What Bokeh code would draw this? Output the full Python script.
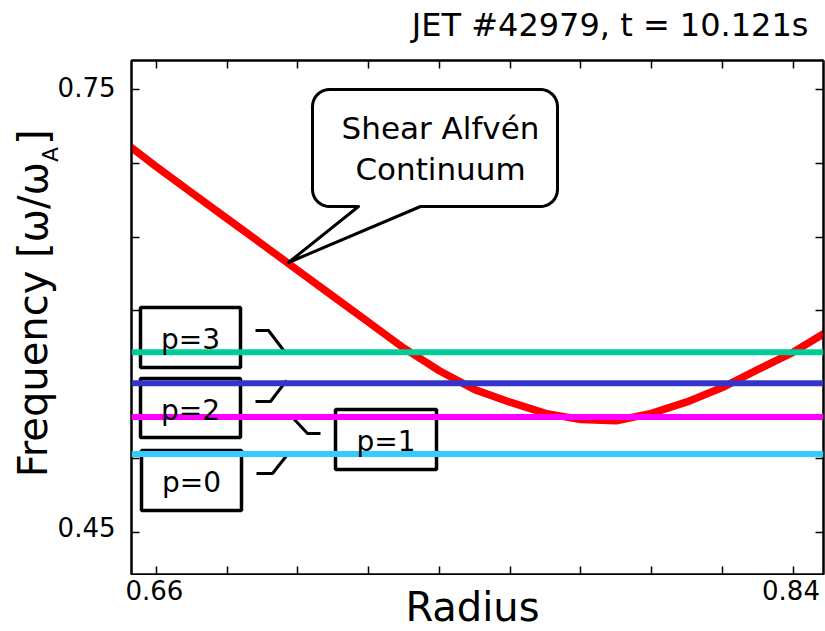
import math

from bokeh.core.properties import value
from bokeh.embed import file_html
from bokeh.layouts import column, row
from bokeh.models import FixedTicker, Label, LinearAxis, Range1d, Span
from bokeh.plotting import figure
from bokeh.resources import INLINE

# ---- data -----------------------------------------------------------------
# shear Alfven continuum frequency vs minor radius
radius = [0.653, 0.660, 0.670, 0.680, 0.690, 0.700, 0.710, 0.720, 0.730,
          0.740, 0.750, 0.760, 0.770, 0.780, 0.790, 0.800, 0.810, 0.820,
          0.830, 0.840, 0.849]
continuum = [0.7105, 0.6977, 0.6801, 0.6625, 0.6450, 0.6274, 0.6098, 0.5923,
             0.5747, 0.5594, 0.5466, 0.5381, 0.5305, 0.5263, 0.5255, 0.5305,
             0.5383, 0.5480, 0.5602, 0.5719, 0.5850]

# eigenmode frequencies (p = radial mode number)
mode_labels = ["p=0", "p=1", "p=2", "p=3"]
mode_freq = [0.503, 0.528, 0.551, 0.572]
mode_colors = ["#33ccff", "#ff00ff", "#3434c8", "#00cc99"]

x_ticks = [0.66, 0.68, 0.70, 0.72, 0.74, 0.76, 0.78, 0.80, 0.82, 0.84]
x_tick_labels = {0.66: "0.66", 0.84: "0.84"}
y_ticks = [0.45, 0.50, 0.55, 0.60, 0.65, 0.70, 0.75]
y_tick_labels = {0.75: "0.75", 0.45: "0.45"}

title_text = "JET #42979, t = 10.121s"
x_title = "Radius"
y_title = ("Frequency [ω/ω", "A", "]")
bubble_lines = ["Shear Alfvén", "Continuum"]

# ---- geometry -------------------------------------------------------------
W, H = 825, 631
FL, FR, FT, FB = 131, 823, 60, 574          # plot frame in page pixels
X0, X1 = 0.65296, 0.84862
Y0, Y1 = 0.42134, 0.76965
PT, PB, PL = 2, 1, 2                        # border kept round the frame
FONT = "DejaVu Sans"
BASE_SHIFT = -0.0185                        # cap centre vs "middle" anchor, em


def dx(px):
    """page pixel column -> data x"""
    return X0 + (px - FL) / (FR - FL) * (X1 - X0)


def dy(py):
    """page pixel row -> data y"""
    return Y1 - (py - FT) / (FB - FT) * (Y1 - Y0)


def px(x):
    """data x -> page pixel column"""
    return FL + (x - X0) / (X1 - X0) * (FR - FL)


def py(y):
    """data y -> page pixel row"""
    return FT + (Y1 - y) / (Y1 - Y0) * (FB - FT)


# ---- main plot ------------------------------------------------------------
p = figure(width=W - FL + PL, height=FB - FT + PT + PB,
           output_backend="svg", toolbar_location=None,
           x_range=Range1d(X0, X1), y_range=Range1d(Y0, Y1),
           min_border_left=PL, min_border_right=W - FR,
           min_border_top=PT, min_border_bottom=PB)
p.background_fill_color = "white"
p.border_fill_color = "white"
p.outline_line_color = "black"
p.outline_line_width = 2
p.grid.visible = False

p.add_layout(LinearAxis(), "above")
p.add_layout(LinearAxis(), "right")
for ax in p.xaxis:
    ax.ticker = FixedTicker(ticks=x_ticks, minor_ticks=[])
for ax in p.yaxis:
    ax.ticker = FixedTicker(ticks=y_ticks, minor_ticks=[])
for ax in p.axis:
    ax.major_tick_in = 8
    ax.major_tick_out = 0
    ax.major_tick_line_width = 1.5
    ax.major_tick_line_color = "black"
    ax.axis_line_width = 2
    ax.axis_line_color = "black"
    ax.major_label_overrides = {t: "" for t in ax.ticker.ticks}
    ax.major_label_standoff = 0


def label(s, x, y, size, align="center"):
    """text inside the frame, cap-height centre at page pixel (x, y)"""
    p.add_layout(Label(x=dx(x), y=dy(y + BASE_SHIFT * size), text=s,
                       text_font=FONT, text_font_size=f"{size}px",
                       text_align=align, text_baseline="middle",
                       text_color="black"))


p.line(radius, continuum, line_color="#ff0000", line_width=7.5,
       line_join="round", line_cap="round")

for f, c in zip(mode_freq, mode_colors):
    p.add_layout(Span(location=f, dimension="width", line_color=c,
                      line_width=6))

# mode label boxes (left, top, right, bottom) and leader lines, page pixels
boxes = {
    "p=0": (141, 450, 241, 510),
    "p=1": (335, 409, 436, 469),
    "p=2": (140, 378, 240, 437),
    "p=3": (140, 307, 240, 367),
}
leaders = {
    "p=0": [(256, 473), (272, 473), (287, 454)],
    "p=1": [(293, 418), (307, 433), (320, 433)],
    "p=2": [(255, 401), (270, 401), (286, 380)],
    "p=3": [(255, 330), (268, 330), (284, 351)],
}

p.quad(left=[dx(boxes[k][0]) for k in mode_labels],
       right=[dx(boxes[k][2]) for k in mode_labels],
       top=[dy(boxes[k][1]) for k in mode_labels],
       bottom=[dy(boxes[k][3]) for k in mode_labels],
       fill_color="white", line_color="black", line_width=3.5)

p.multi_line(xs=[[dx(a) for a, _ in leaders[k]] for k in mode_labels],
             ys=[[dy(b) for _, b in leaders[k]] for k in mode_labels],
             line_color="black", line_width=3)

for k in mode_labels:
    l, t, r, b = boxes[k]
    label(k, (l + r) / 2, (t + b) / 2 + 3, 28)

# speech bubble
bl, bt, br, bb, rad = 312, 89, 557, 206, 17
tail_a, tail_b, tip = 358, 420, (288, 262)


def arc(cx, cy, a0, a1, n=8):
    return [(cx + rad * math.cos(math.radians(a0 + (a1 - a0) * i / n)),
             cy + rad * math.sin(math.radians(a0 + (a1 - a0) * i / n)))
            for i in range(n + 1)]


path = []
path += arc(bl + rad, bt + rad, 180, 270)
path += arc(br - rad, bt + rad, 270, 360)
path += arc(br - rad, bb - rad, 0, 90)
path += [(tail_b, bb), tip, (tail_a, bb)]
path += arc(bl + rad, bb - rad, 90, 180)
p.patch([dx(a) for a, _ in path], [dy(b) for _, b in path],
        fill_color="white", line_color="black", line_width=3,
        line_join="round")

for i, s in enumerate(bubble_lines):
    label(s, 440, 128 + 41 * i, 31)


# ---- text strips round the plot (page-pixel coordinates) ------------------
def strip(width, height, x0, x1, y0, y1):
    f = figure(width=width, height=height, output_backend="svg",
               toolbar_location=None, x_axis_type=None, y_axis_type=None,
               x_range=Range1d(x0, x1), y_range=Range1d(y1, y0),
               min_border=0)
    f.outline_line_color = None
    f.background_fill_color = "white"
    f.border_fill_color = "white"
    return f


def put(f, s, x, y, size, align="center", angle=0.0):
    """text whose cap-height centre sits at page pixel (x, y)"""
    shift = BASE_SHIFT * size
    f.text(x=[x + shift * math.sin(angle)], y=[y + shift * math.cos(angle)],
           text=[s], angle=angle,
           text_font=value(FONT), text_font_size=value(f"{size}px"),
           text_align=value(align), text_baseline=value("middle"),
           text_color="black")


top = strip(W, FT - PT, 0, W, 0, FT - PT)
put(top, title_text, 808, 25, 32, align="right")

left = strip(FL - PL, FB - FT + PT + PB, 0, FL - PL, FT - PT, FB + PB)
for v, s in y_tick_labels.items():
    put(left, s, 115, py(v) - 4, 26, align="right")
up = math.pi / 2
put(left, y_title[0], 33, 160, 40, align="right", angle=up)
put(left, y_title[1], 50, 160, 22, align="left", angle=up)
put(left, y_title[2], 33, 143, 40, align="left", angle=up)

bottom = strip(W, H - FB - PB, 0, W, FB + PB, H)
for v, s in x_tick_labels.items():
    put(bottom, s, px(v) - 2, 590, 26)
put(bottom, x_title, 472, 607, 40)

page = column(top, row(left, p), bottom)
open("out.html", "w").write(file_html(page, INLINE))
